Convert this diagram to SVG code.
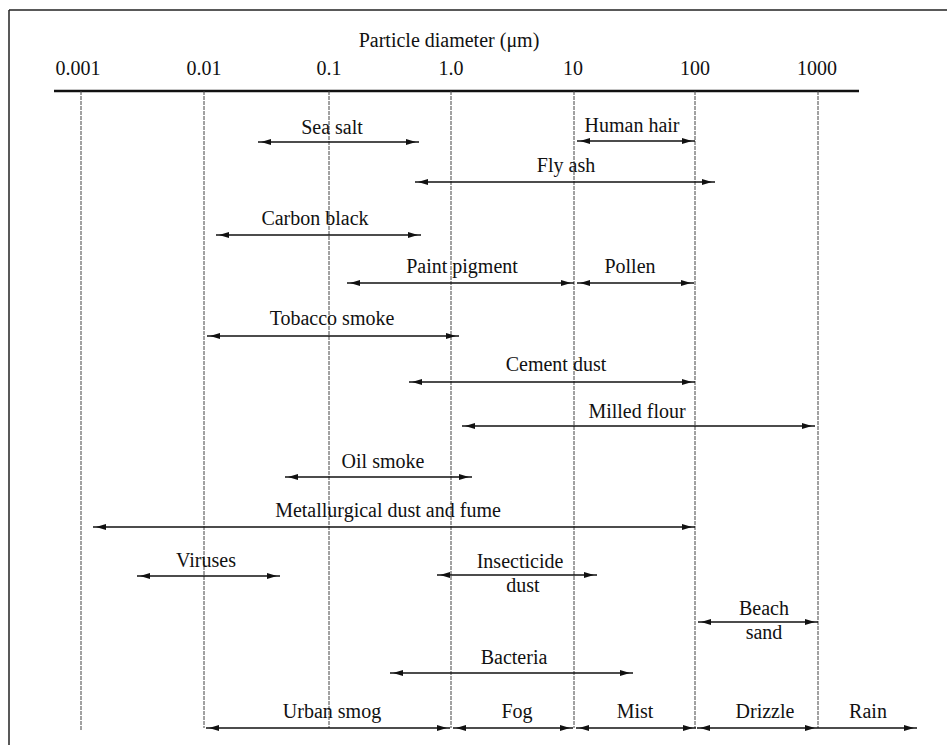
<svg xmlns="http://www.w3.org/2000/svg" width="947" height="745" viewBox="0 0 947 745">
<defs>
<style>
text{font-family:'Liberation Serif','Times New Roman',serif;font-size:20px;fill:#111;text-anchor:middle}
.grid{stroke:#444;stroke-width:1;stroke-dasharray:4 1}
.arr{stroke:#111;stroke-width:1.4;fill:none;marker-end:url(#ah);marker-start:url(#ah)}
.arr1{stroke:#111;stroke-width:1.4;fill:none;marker-end:url(#ah)}
</style>
<marker id="ah" viewBox="0 0 14 7" refX="13" refY="3.5" markerWidth="14" markerHeight="7" markerUnits="userSpaceOnUse" orient="auto-start-reverse">
<path d="M0,0.5 L10,3.5 L0,6.5 z" fill="#111"/>
</marker>
</defs>
<rect width="947" height="745" fill="#fff"/>
<g id="frame">
<line x1="9" y1="10" x2="947" y2="10" stroke="#222" stroke-width="1.5"/>
<line x1="9" y1="10" x2="9" y2="745" stroke="#222" stroke-width="1.5"/>
</g>
<g id="axis">
<text x="449" y="47">Particle diameter (μm)</text>
<line x1="54" y1="91" x2="859" y2="91" stroke="#111" stroke-width="2.5"/>
<text x="78" y="75">0.001</text>
<text x="204" y="75">0.01</text>
<text x="329" y="75">0.1</text>
<text x="451" y="75">1.0</text>
<text x="573" y="75">10</text>
<text x="695" y="75">100</text>
<text x="817" y="75">1000</text>
</g>
<g id="gridlines">
<line class="grid" x1="81" y1="91" x2="81" y2="730"/>
<line class="grid" x1="204" y1="91" x2="204" y2="728"/>
<line class="grid" x1="329" y1="91" x2="329" y2="728"/>
<line class="grid" x1="451" y1="91" x2="451" y2="728"/>
<line class="grid" x1="574" y1="91" x2="574" y2="728"/>
<line class="grid" x1="695" y1="91" x2="695" y2="728"/>
<line class="grid" x1="818" y1="91" x2="818" y2="728"/>
</g>
<g id="connectors">
<line class="arr" x1="258" y1="142" x2="419" y2="142"/>
<line class="arr" x1="577" y1="141" x2="695" y2="141"/>
<line class="arr" x1="415" y1="182" x2="715" y2="182"/>
<line class="arr" x1="216" y1="235" x2="421" y2="235"/>
<line class="arr" x1="347" y1="283" x2="574" y2="283"/>
<line class="arr" x1="577" y1="283" x2="694" y2="283"/>
<line class="arr" x1="207" y1="336" x2="459" y2="336"/>
<line class="arr" x1="409" y1="382" x2="695" y2="382"/>
<line class="arr" x1="462" y1="426" x2="815" y2="426"/>
<line class="arr" x1="285" y1="477" x2="472" y2="477"/>
<line class="arr" x1="93" y1="527" x2="695" y2="527"/>
<line class="arr" x1="137" y1="576" x2="280" y2="576"/>
<line class="arr" x1="437" y1="575" x2="597" y2="575"/>
<line class="arr" x1="698" y1="622" x2="818" y2="622"/>
<line class="arr" x1="390" y1="673" x2="633" y2="673"/>
<line class="arr" x1="206" y1="728" x2="450" y2="728"/>
<line class="arr" x1="453" y1="728" x2="573" y2="728"/>
<line class="arr" x1="576" y1="728" x2="696" y2="728"/>
<line class="arr" x1="697" y1="728" x2="818" y2="728"/>
<line class="arr1" x1="818" y1="728" x2="917" y2="728"/>
</g>
<g id="sea-salt"><text x="332" y="134">Sea salt</text></g>
<g id="human-hair"><text x="632" y="132">Human hair</text></g>
<g id="fly-ash"><text x="566" y="172">Fly ash</text></g>
<g id="carbon-black"><text x="315" y="225">Carbon black</text></g>
<g id="paint-pigment"><text x="462" y="273">Paint pigment</text></g>
<g id="pollen"><text x="630" y="273">Pollen</text></g>
<g id="tobacco-smoke"><text x="332" y="325">Tobacco smoke</text></g>
<g id="cement-dust"><text x="556" y="371">Cement dust</text></g>
<g id="milled-flour"><text x="637" y="418">Milled flour</text></g>
<g id="oil-smoke"><text x="383" y="468">Oil smoke</text></g>
<g id="metallurgical"><text x="388" y="517">Metallurgical dust and fume</text></g>
<g id="viruses"><text x="206" y="567">Viruses</text></g>
<g id="insecticide-dust"><text x="520" y="568">Insecticide</text><text x="523" y="592">dust</text></g>
<g id="beach-sand"><text x="764" y="615">Beach</text><text x="764" y="639">sand</text></g>
<g id="bacteria"><text x="514" y="664">Bacteria</text></g>
<g id="urban-smog"><text x="332" y="718">Urban smog</text></g>
<g id="fog"><text x="517" y="718">Fog</text></g>
<g id="mist"><text x="635" y="718">Mist</text></g>
<g id="drizzle"><text x="765" y="718">Drizzle</text></g>
<g id="rain"><text x="868" y="718">Rain</text></g>
</svg>
